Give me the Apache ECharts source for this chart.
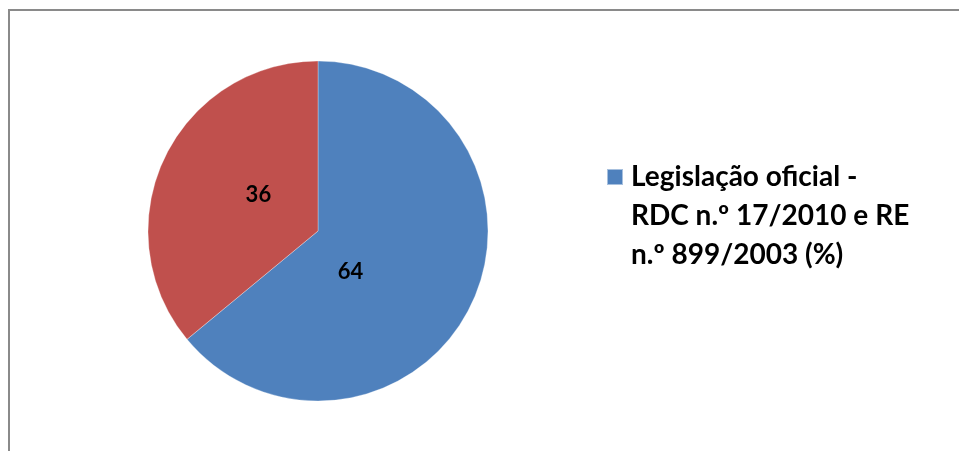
<!DOCTYPE html>
<html>
<head>
<meta charset="utf-8">
<script src="https://cdn.jsdelivr.net/npm/echarts@6/dist/echarts.min.js"></script>
<style>
html,body{margin:0;padding:0;background:#fff;}
#chart{width:959px;height:451px;}
</style>
</head>
<body>
<div id="chart"></div>
<script>
const categories = ['Legislação oficial - RDC n.º 17/2010 e RE n.º 899/2003 (%)', 'Outros'];
const values = [64, 36];
const legendLines = ['Legislação oficial -', 'RDC n.º 17/2010 e RE', 'n.º 899/2003 (%)'];
const colors = ['#4F81BD', '#C0504D'];

const labelShift = [[-47, 3], [20, 1]];

const chart = echarts.init(document.getElementById('chart'));
chart.setOption({
  animation: false,
  backgroundColor: '#ffffff',
  color: colors,
  graphic: [{
    type: 'rect',
    shape: { x: 9, y: 10, width: 1000, height: 500 },
    style: { fill: 'none', stroke: '#8a8a8a', lineWidth: 2 },
    silent: true
  }],
  legend: {
    data: [categories[0]],
    orient: 'vertical',
    left: 606,
    top: 156,
    padding: 0,
    icon: 'path://M0,0L0,0.01M0,12L16,12L16,28L0,28ZM16,117L16,117.01',
    itemWidth: 16,
    itemHeight: 117,
    selectedMode: false,
    formatter: () => legendLines.join('\n'),
    textStyle: {
      fontFamily: 'Lato',
      fontWeight: 'bold',
      fontSize: 28,
      lineHeight: 39,
      color: '#000',
      padding: [0, 0, 0, 3]
    },
    align: 'left'
  },
  series: [{
    type: 'pie',
    center: [318, 231],
    radius: [0, 170],
    startAngle: 90,
    clockwise: true,
    emphasis: { disabled: true },
    itemStyle: { borderColor: 'rgba(255,255,255,0.5)', borderWidth: 0.6 },
    label: {
      show: true,
      position: 'inside',
      formatter: '{c}',
      fontFamily: 'Lato',
      fontWeight: 'bold',
      fontSize: 22,
      color: '#000'
    },
    labelLine: { show: false },
    labelLayout: function (p) {
      const s = labelShift[p.dataIndex];
      return { dx: s[0], dy: s[1] };
    },
    data: categories.map((c, i) => ({ name: c, value: values[i] }))
  }]
});
</script>
</body>
</html>
